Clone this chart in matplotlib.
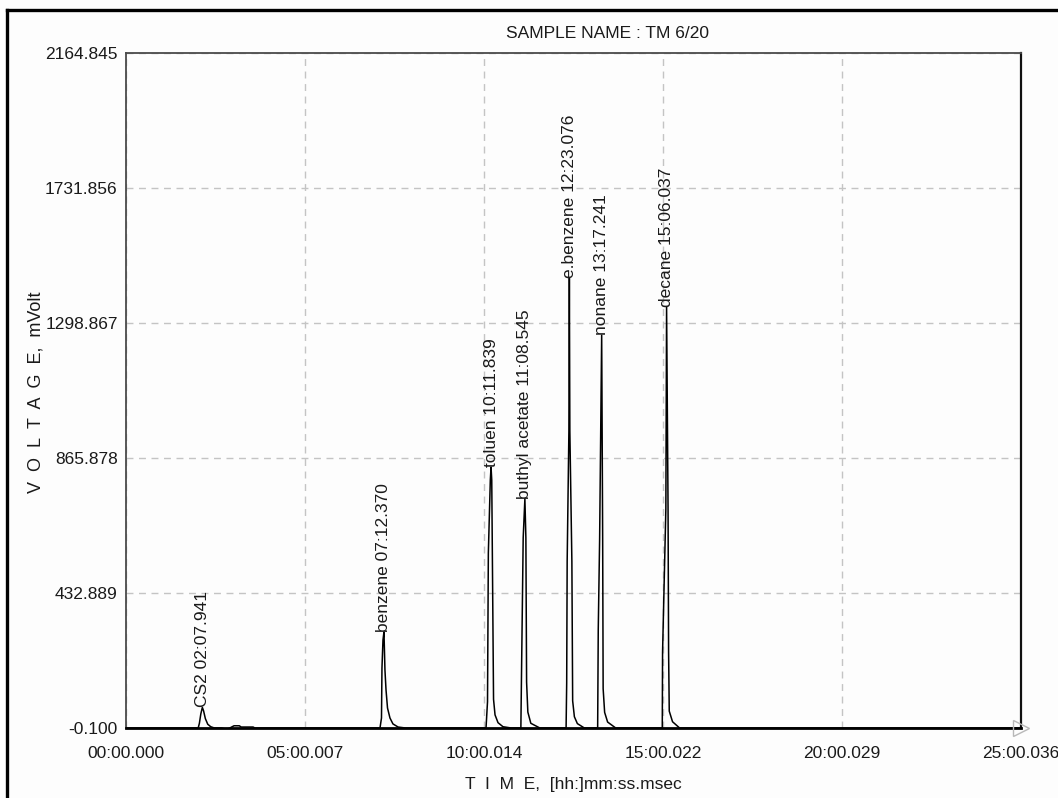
import matplotlib
matplotlib.use("Agg")
import matplotlib.pyplot as plt
from matplotlib.lines import Line2D


OUTPUT_PATH = "out.png"
SAMPLE_NAME = "TM 6/20"

# axis ranges (seconds / mV) and tick positions as printed by the integrator
T_END = 1500.036
XTICKS_S = [0.0, 300.007, 600.014, 900.022, 1200.029, 1500.036]
YTICKS_MV = [-0.100, 432.889, 865.878, 1298.867, 1731.856, 2164.845]

# identified peaks: name, retention time (s), apex height (mV)
PEAK_NAMES = ["CS2", "benzene", "toluen", "buthyl acetate",
              "e.benzene", "nonane", "decane"]
RET_TIMES = [127.941, 432.370, 611.839, 668.545, 743.076, 797.241, 906.037]
PEAK_HEIGHTS = [66, 308, 837, 735, 1443, 1260, 1350]

# detector trace around each peak, (time s, mV)
CS2_TRACE = [(121.0, 0), (123.0, 15), (125.4, 45), (127.941, 66), (130.0, 55),
             (133.0, 30), (137.0, 12), (142.0, 4), (148.0, 0)]
HUMP_TRACE = [(160.0, 0), (166.0, -3), (171.0, -3), (174.0, 0), (178.0, 4),
              (181.0, 7), (190.0, 7), (193.0, 3), (213.0, 3), (216.0, 0)]
BENZENE_TRACE = [(425.7, 0), (428.2, 32), (429.0, 192), (430.7, 282),
                 (432.370, 308), (434.0, 186), (435.8, 122), (438.3, 64),
                 (442.4, 32), (447.4, 13), (456.0, 3), (468.0, 0)]
TOLUEN_TRACE = [(603.4, 0), (605.9, 84), (607.3, 561), (610.6, 795),
                (611.839, 837), (613.0, 795), (614.0, 561), (616.0, 92),
                (618.5, 42), (623.5, 17), (631.8, 4), (645.3, 0)]
BUTHYL_TRACE = [(661.8, 0), (663.0, 191), (665.7, 610), (668.545, 735),
                (670.2, 610), (671.4, 147), (673.5, 51), (678.5, 15),
                (693.5, 0)]
EBENZENE_TRACE = [(737.6, 0), (738.6, 144), (739.4, 534), (742.3, 952),
                  (743.076, 1443), (743.9, 952), (747.3, 534), (748.6, 87),
                  (751.5, 36), (756.5, 14), (768.1, 0)]
NONANE_TRACE = [(790.5, 0), (791.5, 315), (793.8, 605), (797.241, 1260),
                (798.9, 605), (799.7, 126), (802.2, 50), (807.2, 19),
                (820.7, 0)]
DECANE_TRACE = [(898.8, 0), (899.3, 243), (904.8, 702), (906.037, 1350),
                (908.5, 702), (909.4, 243), (910.5, 54), (916.0, 20),
                (927.8, 0)]

FONT = ["Liberation Sans", "DejaVu Sans"]
FS = 12.5
TEXT_COLOR = "#1a1a1a"
GRID_COLOR = "#c4c4c4"


def fmt_time(sec):
    ms = int(round(sec * 1000))
    m, rest = divmod(ms, 60000)
    s, ms = divmod(rest, 1000)
    return f"{m:02d}:{s:02d}.{ms:03d}"


def build_trace():
    pts = [(0.0, 0.0)]
    for seg in (CS2_TRACE, HUMP_TRACE, BENZENE_TRACE, TOLUEN_TRACE,
                BUTHYL_TRACE, EBENZENE_TRACE, NONANE_TRACE, DECANE_TRACE):
        pts.extend(seg)
    pts.append((T_END, 0.0))
    t = [p[0] for p in pts]
    v = [p[1] for p in pts]
    return t, v


def plot_chromatogram():
    plt.rcParams["font.family"] = FONT
    fig = plt.figure(figsize=(10.58, 7.98), dpi=100, facecolor="#fdfdfd")
    ax = fig.add_axes([126 / 1058, 1 - 728 / 798, 895 / 1058, 675 / 798])
    ax.set_facecolor("#fdfdfd")

    ax.set_xlim(0, T_END)
    ax.set_ylim(YTICKS_MV[0], YTICKS_MV[-1])
    ax.set_xticks(XTICKS_S)
    ax.set_xticklabels([fmt_time(s) for s in XTICKS_S])
    ax.set_yticks(YTICKS_MV)
    ax.set_yticklabels([f"{v:.3f}" for v in YTICKS_MV])
    ax.tick_params(length=0, labelsize=FS, colors=TEXT_COLOR)
    ax.tick_params(axis="x", pad=13)
    ax.tick_params(axis="y", pad=6)
    ax.grid(True, color=GRID_COLOR, ls=(0, (5, 4)), lw=1.0)

    for side in ("left", "top"):
        ax.spines[side].set_color("#4a4a4a")
        ax.spines[side].set_linewidth(1.3)
    ax.spines["right"].set_color("#111111")
    ax.spines["right"].set_linewidth(1.6)
    ax.spines["bottom"].set_color("#000000")
    ax.spines["bottom"].set_linewidth(2.0)

    t, v = build_trace()
    ax.plot(t, v, color="black", lw=1.1, zorder=3)

    # peak labels standing on each apex
    for name, rt, h in zip(PEAK_NAMES, RET_TIMES, PEAK_HEIGHTS):
        ax.text(rt, h, f"{name} {fmt_time(rt)}", rotation=90,
                ha="center", va="bottom", fontsize=FS, color=TEXT_COLOR,
                zorder=4)

    # end-of-run marker
    ax.plot([T_END], [YTICKS_MV[0]], marker=">", ms=11, mfc="none",
            mec="#b8b8b8", mew=1.0, clip_on=False, zorder=5)

    fig.text(607 / 1058, 1 - 33 / 798, f"SAMPLE NAME : {SAMPLE_NAME}",
             ha="center", va="center", fontsize=FS, color=TEXT_COLOR)
    fig.text(36 / 1058, 1 - 392 / 798, "V  O  L  T  A  G  E,  mVolt",
             rotation=90, ha="center", va="center", fontsize=13,
             color=TEXT_COLOR)
    fig.text(573 / 1058, 1 - 785 / 798, "T  I  M  E,  [hh:]mm:ss.msec",
             ha="center", va="center", fontsize=FS, color=TEXT_COLOR)

    # window frame, only the left and top edges fall inside the image
    fig.add_artist(Line2D([7 / 1058, 7 / 1058], [0, 1 - 10 / 798],
                          transform=fig.transFigure, color="black", lw=2.4))
    fig.add_artist(Line2D([7 / 1058, 1], [1 - 10 / 798, 1 - 10 / 798],
                          transform=fig.transFigure, color="black", lw=2.4))

    fig.savefig(OUTPUT_PATH, dpi=100, facecolor=fig.get_facecolor())


if __name__ == "__main__":
    plot_chromatogram()
